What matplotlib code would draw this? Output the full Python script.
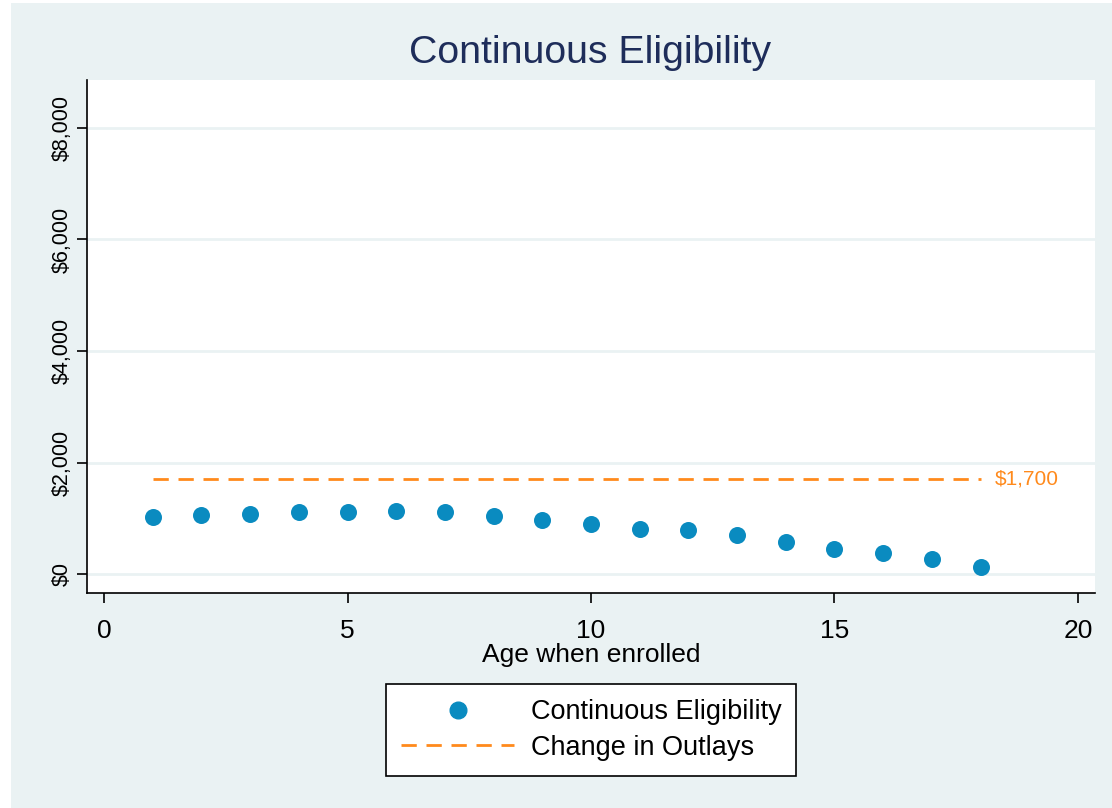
import matplotlib.pyplot as plt
from matplotlib.patches import Rectangle
from matplotlib.lines import Line2D

plt.rcParams['font.family'] = ['Liberation Sans', 'DejaVu Sans']

# datos
edad = [1, 2, 3, 4, 5, 6, 7, 8, 9, 10, 11, 12, 13, 14, 15, 16, 17, 18]
costo = [1025, 1060, 1080, 1110, 1120, 1135, 1110, 1045, 970, 895, 805, 790, 705, 580, 455, 380, 270, 125]
cambio_outlays = 1700
linea_x = [1, 18]
yticks = [0, 2000, 4000, 6000, 8000]
xticks = [0, 5, 10, 15, 20]

bg = '#EAF2F3'
azul = '#0A8BC0'
naranja = '#FF8A1C'

fig = plt.figure(figsize=(11.12, 8.08), dpi=100, facecolor='white')
fig.patches.append(Rectangle((11 / 1112, 0), 1 - 11 / 1112, 1 - 3 / 808,
                             transform=fig.transFigure, facecolor=bg,
                             edgecolor='none', zorder=-10))

ax = fig.add_axes([87 / 1112, 1 - 593 / 808, (1095 - 87) / 1112, (593 - 80) / 808])
ax.set_facecolor('white')

ax.scatter(edad, costo, s=150, color=azul, zorder=3, linewidths=0)
ax.plot(linea_x, [cambio_outlays] * 2, '--', color=naranja, linewidth=2,
        dashes=(5.5, 3.5), zorder=2)
ax.text(linea_x[1] + 0.3, cambio_outlays, '$1,700', color=naranja,
        fontsize=15, va='center', ha='left')

ax.set_xlim(-0.35, 20.35)
ax.set_ylim(-340, 8860)
ax.set_xticks(xticks)
ax.set_yticks(yticks)
ax.set_yticklabels([f'${v:,}' for v in yticks], rotation=90, va='center')
ax.tick_params(axis='both', direction='out', length=7, width=1.2, color='black',
               labelsize=15.5)
ax.tick_params(axis='x', labelsize=19, pad=12)
ax.grid(True, axis='y', color=bg, linewidth=2)
ax.set_axisbelow(True)
for s in ['top', 'right']:
    ax.spines[s].set_visible(False)
for s in ['left', 'bottom']:
    ax.spines[s].set_linewidth(1.2)

ax.set_xlabel('Age when enrolled', fontsize=19, labelpad=0)
fig.text(0.531, 1 - 53 / 808, 'Continuous Eligibility', fontsize=28.3,
         color='#1E2D5A', ha='center', va='center')

handles = [
    Line2D([], [], marker='o', linestyle='none', color=azul, markersize=12),
    Line2D([], [], linestyle='--', dashes=(5.5, 3.5), color=naranja, linewidth=2),
]
leg = fig.legend(handles, ['Continuous Eligibility', 'Change in Outlays'],
                 loc='center', bbox_to_anchor=(591 / 1112, 1 - 730 / 808),
                 fontsize=19.5, frameon=True, fancybox=False, handlelength=4.2,
                 handletextpad=0.6, borderpad=0.55, labelspacing=0.35,
                 framealpha=1, facecolor='white')
leg.get_frame().set_edgecolor('black')
leg.get_frame().set_linewidth(1.2)

plt.savefig('out.png', dpi=100, facecolor=fig.get_facecolor())
